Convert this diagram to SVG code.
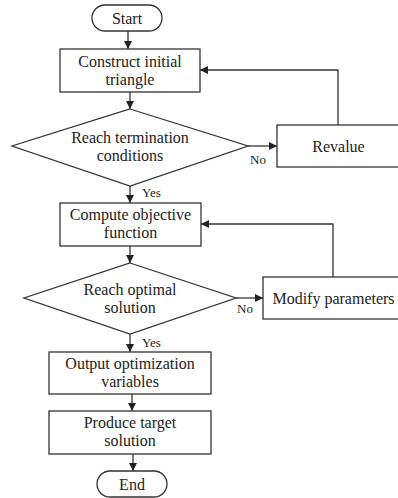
<svg xmlns="http://www.w3.org/2000/svg" width="398" height="498" viewBox="0 0 398 498">
<style>
.s{fill:#fff;stroke:#333;stroke-width:1.3}
.t{font-size:16px;fill:#222;text-anchor:middle}
.l{font-size:13px;fill:#222}
.c{fill:none;stroke:#333;stroke-width:1.3}
text{font-family:'Liberation Serif','Times New Roman',Times,serif}
</style>
<defs>
<marker id="a" viewBox="0 0 10 10" refX="10" refY="5" markerWidth="8" markerHeight="8" markerUnits="userSpaceOnUse" orient="auto">
<path d="M0,0 L10,5 L0,10 z" fill="#222"/>
</marker>
</defs>
<rect width="398" height="498" fill="#fff"/>
<g id="connectors" font-family="Liberation Serif, serif">
<line class="c" x1="128" y1="31" x2="128" y2="49" marker-end="url(#a)"/>
<line class="c" x1="130" y1="92" x2="130" y2="109" marker-end="url(#a)"/>
<line class="c" x1="248" y1="146" x2="277" y2="146" marker-end="url(#a)"/>
<polyline class="c" points="338,125 338,70 200,70" marker-end="url(#a)"/>
<line class="c" x1="130" y1="186" x2="130" y2="203" marker-end="url(#a)"/>
<line class="c" x1="130" y1="246" x2="130" y2="263" marker-end="url(#a)"/>
<line class="c" x1="236" y1="298" x2="263" y2="298" marker-end="url(#a)"/>
<polyline class="c" points="333,277 333,224 201,224" marker-end="url(#a)"/>
<line class="c" x1="130" y1="334" x2="130" y2="352" marker-end="url(#a)"/>
<line class="c" x1="132" y1="394" x2="132" y2="411" marker-end="url(#a)"/>
<line class="c" x1="133" y1="454" x2="133" y2="471" marker-end="url(#a)"/>
<text class="l" x="250" y="164">No</text>
<text class="l" x="142" y="197">Yes</text>
<text class="l" x="237" y="313">No</text>
<text class="l" x="142" y="347">Yes</text>
</g>
<g id="start">
<rect class="s" x="92" y="5" width="70" height="26" rx="13"/>
<text class="t" x="127" y="23.5">Start</text>
</g>
<g id="construct">
<rect class="s" x="60" y="49" width="140" height="43"/>
<text class="t" x="130" y="67">Construct initial</text>
<text class="t" x="130" y="85">triangle</text>
</g>
<g id="termination">
<polygon class="s" points="130,109 248,146 130,186 12,146"/>
<text class="t" x="130" y="143">Reach termination</text>
<text class="t" x="130" y="161">conditions</text>
</g>
<g id="revalue">
<rect class="s" x="277" y="125" width="125" height="42"/>
<text class="t" x="338.5" y="151.5">Revalue</text>
</g>
<g id="compute">
<rect class="s" x="60" y="203" width="141" height="43"/>
<text class="t" x="130.5" y="220">Compute objective</text>
<text class="t" x="130.5" y="238">function</text>
</g>
<g id="optimal">
<polygon class="s" points="130,263 236,298 130,334 24,298"/>
<text class="t" x="130" y="295">Reach optimal</text>
<text class="t" x="130" y="313">solution</text>
</g>
<g id="modify">
<rect class="s" x="263" y="277" width="140" height="42"/>
<text class="t" x="333.5" y="303.5">Modify parameters</text>
</g>
<g id="output">
<rect class="s" x="49" y="352" width="162" height="42"/>
<text class="t" x="130" y="369">Output optimization</text>
<text class="t" x="130" y="387">variables</text>
</g>
<g id="produce">
<rect class="s" x="49" y="411" width="162" height="43"/>
<text class="t" x="130" y="428">Produce target</text>
<text class="t" x="130" y="446">solution</text>
</g>
<g id="end">
<rect class="s" x="97" y="471" width="70" height="26" rx="13"/>
<text class="t" x="132" y="489.5">End</text>
</g>
</svg>
